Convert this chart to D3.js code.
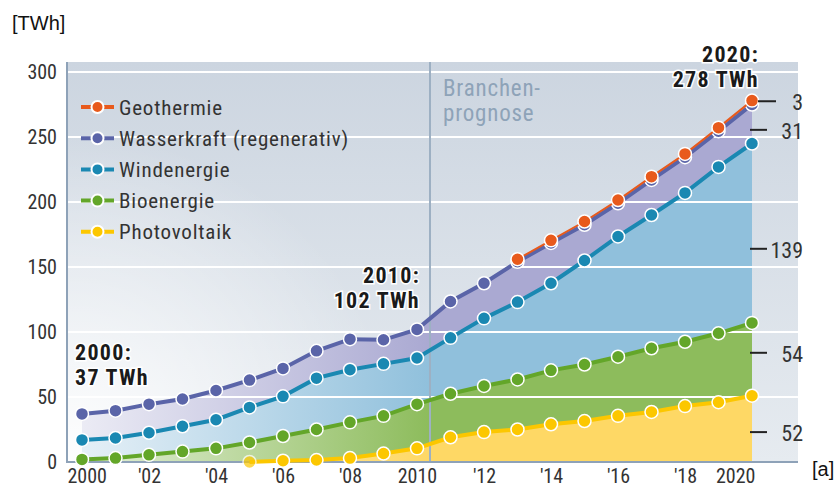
<!DOCTYPE html>
<html>
<head>
<meta charset="utf-8">
<script src="https://cdn.jsdelivr.net/npm/d3@7"></script>
<style>
  body { margin: 0; background: #fff; }
  svg text { font-family: "Roboto Condensed", "DejaVu Sans Condensed", Roboto, sans-serif; }
</style>
</head>
<body>
<div id="chart"></div>
<script>
// Jahre und Werte (TWh) je Energieträger
const years = d3.range(2000, 2021);
const photovoltaik = [null, null, null, null, null, 0, 1, 1.5, 3, 6.5, 10.5, 19, 23, 25, 29, 31.5, 35.5, 38.5, 43, 46, 51];
const bioenergie = [2, 3, 5.5, 8, 10.5, 15, 19, 23.5, 27.5, 29, 34, 33.5, 35.5, 38.5, 41.5, 43.5, 45.5, 49, 49.5, 53, 56];
const windenergie = [15, 15.5, 17, 19.5, 22, 27, 30.5, 39.5, 40.5, 40, 35.5, 43, 52, 59.5, 67, 80, 92.5, 102.5, 114.5, 128, 138];
const wasserkraft = [20, 21, 22, 21, 22.5, 21, 21.5, 21, 23.5, 18.5, 22, 28, 27, 31, 31, 27.5, 25.5, 27, 27.5, 27.5, 30];
const geothermie = [null, null, null, null, null, null, null, null, null, null, null, null, null, 2, 2, 2.5, 2.5, 2.5, 2.5, 2.7, 3];

const yTicks = [0, 50, 100, 150, 200, 250, 300];
const xTicks = [2000, 2002, 2004, 2006, 2008, 2010, 2012, 2014, 2016, 2018, 2020];
const xTickLabels = ["2000", "'02", "'04", "'06", "'08", "2010", "'12", "'14", "'16", "'18", "2020"];

// Beschriftung rechts (Werte 2020) und ihre Höhe in TWh
const rightLabels = ["3", "31", "139", "54", "52"];
const rightLabelAt = [277.5, 255.5, 164, 84, 23];

const series = [
  { key: "Photovoltaik", values: photovoltaik, line: "#fcc700", fill: "#fed865" },
  { key: "Bioenergie", values: bioenergie, line: "#63a629", fill: "#8dbc5c" },
  { key: "Windenergie", values: windenergie, line: "#1a88b2", fill: "#90c0dc" },
  { key: "Wasserkraft (regenerativ)", values: wasserkraft, line: "#5a64a8", fill: "#aaa9d2" },
  { key: "Geothermie", values: geothermie, line: "#e85a1c", fill: "#aaa9d2" }
];

const width = 839, height = 488;
const svg = d3.select("#chart").append("svg")
  .attr("width", width)
  .attr("height", height);

const x = d3.scaleLinear().domain([2000, 2020]).range([82, 752]);
const y = d3.scaleLinear().domain([0, 300]).range([462, 72]);

const panel = { left: 67, right: 798, top: 62, bottom: 462 };

const defs = svg.append("defs");
const bg = defs.append("linearGradient").attr("id", "bg")
  .attr("x1", 0).attr("y1", 0).attr("x2", 0).attr("y2", 1);
bg.append("stop").attr("offset", "0%").attr("stop-color", "#ccd5e0");
bg.append("stop").attr("offset", "100%").attr("stop-color", "#e6ebf0");

const glow = defs.append("radialGradient").attr("id", "glow")
  .attr("gradientUnits", "userSpaceOnUse")
  .attr("cx", 70).attr("cy", 462).attr("r", 330);
glow.append("stop").attr("offset", "0%").attr("stop-color", "#fff").attr("stop-opacity", 0.95);
glow.append("stop").attr("offset", "100%").attr("stop-color", "#fff").attr("stop-opacity", 0);

// Flächen: links blass, ab 2010 satt
series.forEach((s, i) => {
  const g = defs.append("linearGradient").attr("id", "fill" + i)
    .attr("gradientUnits", "userSpaceOnUse")
    .attr("x1", panel.left).attr("x2", 430).attr("y1", 0).attr("y2", 0);
  g.append("stop").attr("offset", "0%").attr("stop-color", d3.interpolateRgb(s.fill, "#fff")(0.8));
  g.append("stop").attr("offset", "100%").attr("stop-color", s.fill);
});

svg.append("rect")
  .attr("x", panel.left).attr("y", panel.top)
  .attr("width", panel.right - panel.left).attr("height", panel.bottom - panel.top)
  .attr("fill", "url(#bg)");
svg.append("rect")
  .attr("x", panel.left).attr("y", panel.top)
  .attr("width", panel.right - panel.left).attr("height", panel.bottom - panel.top)
  .attr("fill", "url(#glow)");

// gestapelte Daten
const table = years.map((yr, i) => {
  const row = { year: yr };
  series.forEach(s => { row[s.key] = s.values[i] || 0; });
  return row;
});
const stacked = d3.stack().keys(series.map(s => s.key))(table);

const area = d3.area()
  .x(d => x(d.data.year))
  .y0(d => y(d[0]))
  .y1(d => y(d[1]));

svg.append("g").selectAll("path")
  .data(stacked.slice(0, 4))
  .join("path")
  .attr("d", area)
  .attr("fill", (d, i) => `url(#fill${i})`);
// Geothermie-Band
svg.append("path")
  .datum(stacked[4])
  .attr("d", area)
  .attr("fill", "url(#fill3)");

// Gitternetz
svg.append("g").selectAll("line")
  .data(yTicks.slice(1))
  .join("line")
  .attr("x1", panel.left).attr("x2", panel.right)
  .attr("y1", d => y(d)).attr("y2", d => y(d))
  .attr("stroke", "#fff").attr("stroke-width", 2);

// Trennlinie Prognose
svg.append("line")
  .attr("x1", 430).attr("x2", 430)
  .attr("y1", panel.top).attr("y2", panel.bottom)
  .attr("stroke", "#9db0c3").attr("stroke-width", 2);

const prog = svg.append("g").style("font-size", "23px").style("letter-spacing", "0.8px").style("fill", "#8ea3b8");
prog.append("text").attr("x", 443).attr("y", 96).text("Branchen-");
prog.append("text").attr("x", 443).attr("y", 121).text("prognose");

// Achsen
const axisColor = "#8ea2b8";
svg.append("line")
  .attr("x1", panel.left).attr("x2", panel.left)
  .attr("y1", panel.top).attr("y2", panel.bottom + 1)
  .attr("stroke", axisColor).attr("stroke-width", 2);
svg.append("line")
  .attr("x1", panel.left).attr("x2", panel.right)
  .attr("y1", panel.bottom).attr("y2", panel.bottom)
  .attr("stroke", axisColor).attr("stroke-width", 2);

const yAxis = svg.append("g")
  .attr("transform", `translate(${panel.left - 10},0)`)
  .call(d3.axisLeft(y).tickValues(yTicks).tickSize(0).tickPadding(0));
yAxis.select(".domain").remove();
yAxis.selectAll("text").style("font-size", "20px").style("fill", "#333");

const xAxis = svg.append("g")
  .attr("transform", `translate(0,${panel.bottom + 4})`)
  .call(d3.axisBottom(x).tickValues(xTicks).tickSize(0).tickPadding(0)
    .tickFormat((d, i) => xTickLabels[i]));
xAxis.select(".domain").remove();
xAxis.selectAll("text")
  .attr("dy", "0.85em")
  .attr("text-anchor", (d, i) => i === 0 ? "start" : i === xTicks.length - 1 ? "end" : "middle")
  .attr("dx", (d, i) => i === 0 ? -15 : i === xTicks.length - 1 ? 3 : 0)
  .style("font-size", "20px").style("fill", "#333");

// Linien und Punkte
const line = d3.line()
  .defined(d => d.v != null)
  .x(d => x(d.year))
  .y(d => y(d.top));

series.forEach((s, i) => {
  const pts = stacked[i].map((d, j) => ({ year: d.data.year, top: d[1], v: s.values[j] }));
  svg.append("path")
    .datum(pts)
    .attr("d", line)
    .attr("fill", "none")
    .attr("stroke", s.line)
    .attr("stroke-width", i === 4 ? 2 : 4);
  svg.append("g").selectAll("circle")
    .data(pts.filter(d => d.v != null))
    .join("circle")
    .attr("cx", d => x(d.year))
    .attr("cy", d => y(d.top))
    .attr("r", 6.5)
    .attr("fill", s.line)
    .attr("opacity", d => d.v === 0 && i === 0 ? 0.7 : 1)
    .attr("stroke", "#fff")
    .attr("stroke-width", 1.5);
});

// Legende (von oben nach unten)
const legend = svg.append("g").selectAll("g")
  .data(series.slice().reverse())
  .join("g")
  .attr("transform", (d, i) => `translate(0,${107 + i * 31.2})`);
legend.append("line")
  .attr("x1", 81).attr("x2", 114)
  .attr("stroke", d => d.line).attr("stroke-width", 4);
legend.append("circle")
  .attr("cx", 97.5).attr("r", 6)
  .attr("fill", d => d.line)
  .attr("stroke", "#fff").attr("stroke-width", 2);
legend.append("text")
  .attr("x", 119).attr("dy", "0.36em")
  .style("font-size", "21px").style("letter-spacing", "0.8px").style("fill", "#333")
  .text(d => d.key);

// Summen-Beschriftungen
function note(lines, xPos, yPos, anchor) {
  const g = svg.append("g")
    .attr("text-anchor", anchor)
    .style("font-size", "22px").style("font-weight", "bold").style("letter-spacing", "1.3px")
    .style("fill", "#1a1a1a")
    .style("paint-order", "stroke").style("stroke", "#fff").style("stroke-width", 3);
  lines.forEach((t, i) => {
    g.append("text").attr("x", xPos).attr("y", yPos + i * 25).text(t);
  });
}
note(["2000:", "37 TWh"], 75, 360, "start");
note(["2010:", "102 TWh"], 420, 283, "end");
note(["2020:", "278 TWh"], 759, 62, "end");

// Werte 2020 rechts
const right = svg.append("g").selectAll("g")
  .data(rightLabels)
  .join("g")
  .attr("transform", (d, i) => `translate(0,${y(rightLabelAt[i])})`);
right.append("line")
  .attr("x1", (d, i) => i === 0 ? 758 : 750)
  .attr("x2", (d, i) => i === 0 ? 776 : 767)
  .attr("stroke", "#222").attr("stroke-width", 2);
right.append("text")
  .attr("x", 803).attr("dy", "0.4em")
  .attr("text-anchor", "end")
  .style("font-size", "22px").style("fill", "#333")
  .text(d => d);

// Einheiten
svg.append("text")
  .attr("x", 12).attr("y", 30)
  .style("font-family", "'Liberation Sans', Arial, sans-serif")
  .style("font-size", "20px").style("fill", "#111")
  .text("[TWh]");
svg.append("text")
  .attr("x", 812).attr("y", 476)
  .style("font-family", "'Liberation Sans', Arial, sans-serif")
  .style("font-size", "20px").style("fill", "#111")
  .text("[a]");
</script>
</body>
</html>
